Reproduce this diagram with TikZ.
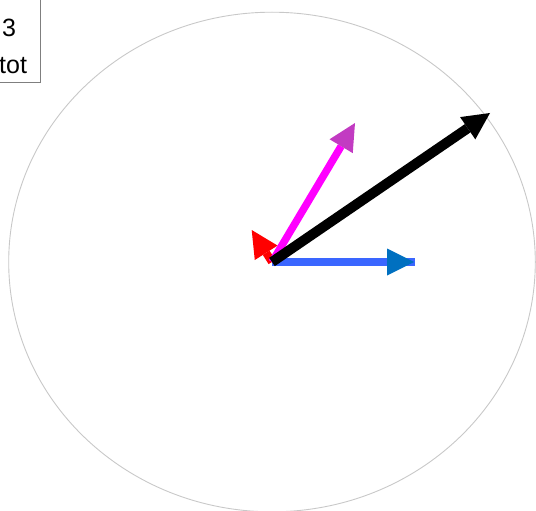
\documentclass[tikz,border=0pt]{standalone}
\usepackage{fontspec}
\setmainfont{Liberation Sans}
\usetikzlibrary{calc}
\definecolor{ringgray}{HTML}{C8C8C8}
\definecolor{boxgray}{HTML}{7F7F7F}
\definecolor{shaftblue}{HTML}{3A66FF}
\definecolor{headblue}{HTML}{0070C0}
\definecolor{shaftmag}{HTML}{FF00FF}
\definecolor{headmag}{HTML}{C23BC2}
\tikzset{
  ring/.style={draw=ringgray, line width=0.9pt},
  legendbox/.style={draw=boxgray, line width=1pt, fill=white},
  legendtext/.style={anchor=base west, inner sep=0pt, font=\fontsize{25}{30}\selectfont},
  shaft/.style={line cap=butt},
}
% \vecarrow{origin}{apex}{shaft colour}{head colour}{shaft width}
\newcommand{\vecarrow}[5]{%
  \coordinate (hb) at ($(#2)!27pt!(#1)$);
  \draw[shaft, draw=#3, line width=#5] (#1) -- (hb);
  \fill[#4] (#2) -- ($(hb)!13.5pt!90:(#2)$) -- ($(hb)!13.5pt!-90:(#2)$) -- cycle;
}
\begin{document}
\begin{tikzpicture}[x=1pt, y=-1pt]
\useasboundingbox (0,0) rectangle (536,511);
\coordinate (O) at (272,262);
\draw[ring] (O) ellipse [x radius=263.3, y radius=249.8];
% legend
\draw[legendbox] (-10,-10) rectangle (40,83);
\node[legendtext] (l1) at (2,37) {3};
\node[legendtext] (l2) at (-1,74) {tot};
% vectors
\coordinate (R) at (251.7,230);
\coordinate (B) at (414,262);
\coordinate (Bend) at (415,262);
\coordinate (M) at (355,123);
\coordinate (K) at (490,113);
\vecarrow{O}{R}{red}{red}{8pt}
\draw[shaft, draw=shaftblue, line width=8pt] (O) -- (Bend);
\vecarrow{O}{B}{shaftblue}{headblue}{8pt}
\vecarrow{O}{M}{shaftmag}{headmag}{7.5pt}
\vecarrow{O}{K}{black}{black}{10pt}
\end{tikzpicture}
\end{document}
